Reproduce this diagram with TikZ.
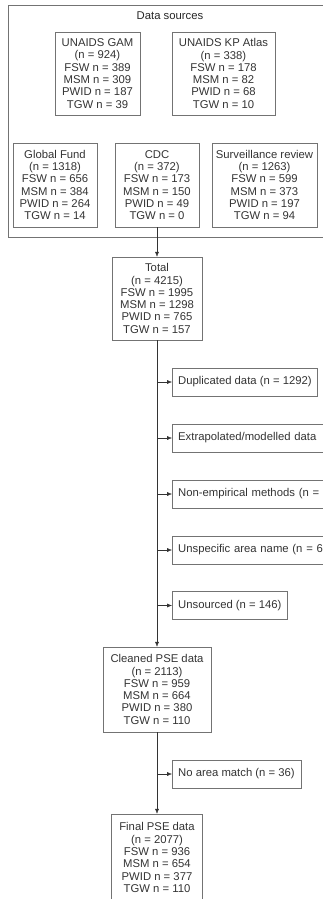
\documentclass[tikz,border=0pt]{standalone}
\usepackage{fontspec}
\setmainfont{Liberation Sans}
\usetikzlibrary{arrows.meta}
\begin{document}
\begin{tikzpicture}[x=1pt,y=-1pt,
    font=\fontsize{11.3}{12.3}\selectfont,
    box/.style={draw=black!55,text=black!80,align=center,inner sep=1pt},
    exclbox/.style={draw=black!55,text=black!80,anchor=west,align=left,minimum height=28pt,inner xsep=6pt},
    >={Latex[length=5pt,width=4pt]}]
  \useasboundingbox (0,0) rectangle (323,899);
  \clip (0,0) rectangle (323,899);
  % data sources
  \node[draw=black!55,minimum width=324pt,minimum height=232pt,anchor=north west] (sources) at (8,5) {};
  \node[text=black!85] (title) at (170,16) {Data sources};
  \node[box,minimum width=85pt,minimum height=83pt] (gam) at (97.5,73.5)
    {UNAIDS GAM\\(n = 924)\\FSW n = 389\\MSM n = 309\\PWID n = 187\\TGW n = 39};
  \node[box,minimum width=103pt,minimum height=83pt] (atlas) at (223.5,73.5)
    {UNAIDS KP Atlas\\(n = 338)\\FSW n = 178\\MSM n = 82\\PWID n = 68\\TGW n = 10};
  \node[box,minimum width=84pt,minimum height=84pt] (gf) at (55,185)
    {Global Fund\\(n = 1318)\\FSW n = 656\\MSM n = 384\\PWID n = 264\\TGW n = 14};
  \node[box,minimum width=84pt,minimum height=84pt] (cdc) at (157,185)
    {CDC\\(n = 372)\\FSW n = 173\\MSM n = 150\\PWID n = 49\\TGW n = 0};
  \node[box,minimum width=105pt,minimum height=84pt] (surv) at (264.5,185)
    {Surveillance review\\(n = 1263)\\FSW n = 599\\MSM n = 373\\PWID n = 197\\TGW n = 94};
  % flow
  \node[box,minimum width=90pt,minimum height=83pt] (total) at (157,298.5)
    {Total\\(n = 4215)\\FSW n = 1995\\MSM n = 1298\\PWID n = 765\\TGW n = 157};
  \node[exclbox] (dup) at (172,382) {Duplicated data (n = 1292)};
  \node[exclbox,text width=170pt] (extra) at (172,438) {Extrapolated/modelled data};
  \node[exclbox,text width=170pt] (nonemp) at (172,494) {Non-empirical methods (n =};
  \node[exclbox,text width=170pt] (unspec) at (172,550) {Unspecific area name (n = 6};
  \node[exclbox] (unsrc) at (172,605.5) {Unsourced (n = 146)};
  \node[box,minimum width=108pt,minimum height=85pt] (clean) at (157,689.5)
    {Cleaned PSE data\\(n = 2113)\\FSW n = 959\\MSM n = 664\\PWID n = 380\\TGW n = 110};
  \node[exclbox] (noarea) at (172,774) {No area match (n = 36)};
  \node[box,minimum width=91pt,minimum height=87pt] (final) at (157,857.5)
    {Final PSE data\\(n = 2077)\\FSW n = 936\\MSM n = 654\\PWID n = 377\\TGW n = 110};
  \draw[->,black!80] (cdc.south) -- (total.north);
  \draw[->,black!80] (total.south) -- (clean.north);
  \foreach \b in {dup,extra,nonemp,unspec,unsrc}
    \draw[->,black!80] (total.south |- \b.west) -- (\b.west);
  \draw[->,black!80] (clean.south) -- (final.north);
  \draw[->,black!80] (clean.south |- noarea.west) -- (noarea.west);
\end{tikzpicture}
\end{document}
